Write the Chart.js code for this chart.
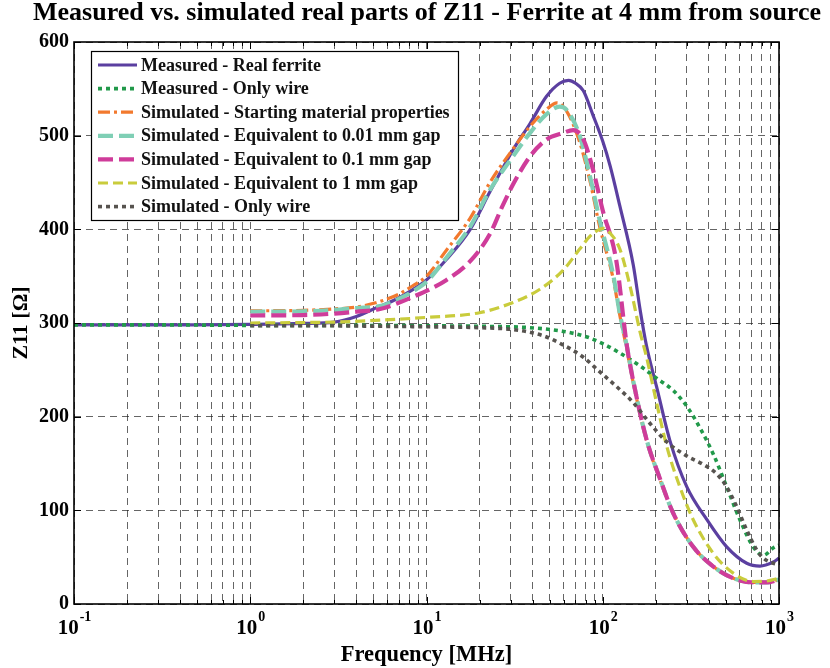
<!DOCTYPE html>
<html><head><meta charset="utf-8">
<script src="https://cdn.jsdelivr.net/npm/chart.js@4.4.1/dist/chart.umd.min.js"></script>
<style>html,body{margin:0;padding:0;background:#fff;}#wrap{width:830px;height:668px;}</style>
</head><body><div id="wrap"><canvas id="c" width="830" height="668"></canvas></div>
<script>
const FONT = '"Liberation Serif", "Times New Roman", serif';
const titleText = 'Measured vs. simulated real parts of Z11 - Ferrite at 4 mm from source';
const xAxisTitle = 'Frequency [MHz]';
const yAxisTitle = 'Z11 [\u03A9]';
const xDecades = [-1, 0, 1, 2, 3];
const yTickValues = [0, 100, 200, 300, 400, 500, 600];

const seriesNames = [
  'Measured - Real ferrite',
  'Measured - Only wire',
  'Simulated - Starting material properties',
  'Simulated - Equivalent to 0.01 mm gap',
  'Simulated - Equivalent to 0.1 mm gap',
  'Simulated - Equivalent to 1 mm gap',
  'Simulated - Only wire'
];

const realFerriteF = [0.1, 0.2, 0.5, 1, 2, 3, 4, 5.45, 6.5, 8.4, 10, 13, 17.7, 22.9, 31, 38.7, 48, 57, 64, 70, 77.6, 88, 100, 110, 125, 149, 163, 177, 202, 240, 300, 390, 505, 656, 780, 930, 1000];
const realFerriteZ = [298, 298, 298, 298.5, 299.5, 301, 307, 318, 324, 336, 346, 368, 400, 440, 485, 513, 542, 556, 559, 556, 548, 522, 494, 468, 425, 362, 314, 276, 232, 175, 125, 90, 61, 43.5, 40.5, 45, 49];

const measWireF = [0.1, 0.3, 1, 3, 10, 20, 38.7, 60, 81.5, 100, 125, 163, 202, 251, 300, 356, 424, 505, 600, 715, 815, 930, 1000];
const measWireZ = [298, 298, 297.5, 297.5, 297, 296.5, 295, 291, 285, 278, 268, 254, 241, 228, 211, 188, 160, 125, 90, 61, 52, 60, 63];

const startMatF = [1, 2, 3, 4, 5.45, 7, 8.4, 10, 13, 17.7, 22.9, 31, 38.7, 48, 55, 62, 74, 85, 96, 115, 125, 137, 149, 177, 211, 251, 326, 424, 550, 715, 850, 1000];
const startMatZ = [313, 313.5, 315, 317, 323, 331, 340, 350, 378, 412, 450, 486, 510, 528, 535, 527, 493, 450, 403, 346, 308, 272, 236, 175, 133, 97, 61, 40, 27.5, 23, 23, 26];

const gap001F = [1, 2, 3, 4, 5.45, 7, 8.4, 10, 13, 17.7, 22.9, 31, 38.7, 48, 57, 62, 74, 85, 96, 115, 125, 137, 149, 177, 211, 251, 326, 424, 550, 715, 850, 1000];
const gap001Z = [312, 312.5, 314, 316, 318, 326, 334, 344, 370, 403, 442, 478, 503, 523, 531, 528, 500, 455, 410, 350, 310, 275, 238, 176, 134, 97, 61, 40, 27.5, 23, 23, 26];

const gap01F = [1, 2, 3, 4, 5.45, 8.4, 13, 17.7, 22.9, 27, 31, 38.7, 48, 59.7, 68, 77.6, 88, 100, 119, 137, 149, 177, 211, 251, 326, 424, 550, 715, 850, 1000];
const gap01Z = [308, 308.5, 310, 312, 315, 328, 346, 366, 395, 425, 448, 478, 496, 503, 506, 496, 464, 420, 368, 276, 238, 176, 134, 97, 61, 40, 27.5, 23, 23, 26];

const gap1F = [1, 2, 3, 5.45, 10, 20, 31, 44, 60, 74, 85, 96, 101, 110, 125, 143, 163, 177, 202, 231, 274, 326, 424, 550, 715, 850, 1000];
const gap1Z = [300, 300.5, 301, 303, 306, 311, 322, 336, 357, 379, 393, 400, 401, 396, 379, 339, 290, 264, 215, 168, 125, 90, 54, 33, 24, 24.5, 27.5];

const simWireF = [1, 3, 5.45, 10, 20, 31, 45, 59, 77, 96, 120, 149, 185, 231, 300, 372, 443, 505, 575, 656, 746, 815, 928, 1000];
const simWireZ = [297, 297, 296.5, 296, 295, 293, 287, 277, 264, 248, 232, 215, 193, 173, 158, 149, 139, 125, 104, 79, 58, 49, 43.5, 42];

const seriesF = [realFerriteF, measWireF, startMatF, gap001F, gap01F, gap1F, simWireF];
const seriesZ = [realFerriteZ, measWireZ, startMatZ, gap001Z, gap01Z, gap1Z, simWireZ];
const colors = ['#5B3FA0', '#21994A', '#F2792E', '#7FCFB5', '#CF3C9A', '#C9CC3C', '#57534F'];
const dashes = [[], [4, 4], [12, 4, 3, 4], [15, 6], [15, 6], [10, 5], [4, 4]];
const widths = [3.2, 3.6, 3.2, 4.2, 4.2, 3.2, 3.6];

const datasets = seriesNames.map((name, i) => ({
  label: name,
  data: seriesF[i].map((f, k) => ({ x: f, y: seriesZ[i][k] })),
  borderColor: colors[i],
  backgroundColor: colors[i],
  borderWidth: widths[i],
  borderDash: dashes[i],
  borderCapStyle: 'butt',
  pointRadius: 0,
  fill: false,
  cubicInterpolationMode: 'monotone',
  order: seriesNames.length - i
}));

const decor = {
  id: 'decor',
  afterDraw(chart) {
    const { ctx, chartArea: a, scales: { x, y } } = chart;
    ctx.save();
    ctx.setLineDash([]);
    ctx.strokeStyle = '#000';
    ctx.lineWidth = 1;
    x.ticks.forEach(t => {
      const px = Math.round(x.getPixelForValue(t.value)) + 0.5;
      const len = t.major ? 7 : 4;
      ctx.beginPath();
      ctx.moveTo(px, a.bottom); ctx.lineTo(px, a.bottom - len);
      ctx.moveTo(px, a.top); ctx.lineTo(px, a.top + len);
      ctx.stroke();
    });
    y.ticks.forEach(t => {
      const py = Math.round(y.getPixelForValue(t.value)) + 0.5;
      ctx.beginPath();
      ctx.moveTo(a.left, py); ctx.lineTo(a.left + 7, py);
      ctx.moveTo(a.right, py); ctx.lineTo(a.right - 7, py);
      ctx.stroke();
    });
    ctx.lineWidth = 1.6;
    ctx.strokeRect(a.left, a.top, a.right - a.left, a.bottom - a.top);

    ctx.fillStyle = '#000';
    ctx.textAlign = 'left';
    ctx.textBaseline = 'alphabetic';
    xDecades.forEach(d => {
      const px = x.getPixelForValue(Math.pow(10, d));
      const base = '10', sup = String(d);
      ctx.font = 'bold 21px ' + FONT; const wb = ctx.measureText(base).width;
      ctx.font = 'bold 14px ' + FONT; const ws = ctx.measureText(sup).width;
      const x0 = px - (wb + ws) / 2;
      ctx.font = 'bold 21px ' + FONT; ctx.fillText(base, x0, 634);
      ctx.font = 'bold 14px ' + FONT; ctx.fillText(sup, x0 + wb + 1, 621);
    });

    ctx.textAlign = 'center';
    ctx.font = 'bold 22.5px ' + FONT;
    ctx.fillText(xAxisTitle, (a.left + a.right) / 2, 661);
    ctx.save();
    ctx.translate(21, (a.top + a.bottom) / 2);
    ctx.rotate(-Math.PI / 2);
    ctx.textBaseline = 'middle';
    ctx.font = 'bold 22px ' + FONT;
    ctx.fillText(yAxisTitle, 0, 0);
    ctx.restore();

    ctx.font = 'bold 26px ' + FONT;
    ctx.textBaseline = 'alphabetic';
    ctx.fillText(titleText, 427, 20);

    // legend
    const lx = 91, ly = 51, lw = 367, lh = 169;
    ctx.fillStyle = '#fff';
    ctx.fillRect(lx, ly, lw, lh);
    ctx.strokeStyle = '#000';
    ctx.lineWidth = 1.2;
    ctx.strokeRect(lx + 0.5, ly + 0.5, lw, lh);
    chart.data.datasets.forEach((ds, i) => {
      const yy = 65 + i * 23.6;
      ctx.strokeStyle = ds.borderColor;
      ctx.lineWidth = ds.borderWidth;
      ctx.setLineDash(ds.borderDash || []);
      ctx.beginPath();
      ctx.moveTo(98, yy); ctx.lineTo(137, yy);
      ctx.stroke();
      ctx.setLineDash([]);
      ctx.fillStyle = '#111';
      ctx.font = 'bold 18px ' + FONT;
      ctx.textAlign = 'left';
      ctx.textBaseline = 'middle';
      ctx.fillText(ds.label, 141, yy + 1);
    });
    ctx.restore();
  }
};

new Chart(document.getElementById('c'), {
  type: 'line',
  data: { datasets },
  options: {
    responsive: false,
    animation: false,
    devicePixelRatio: 1,
    layout: { padding: { top: 42, right: 51, left: 0, bottom: 0 } },
    plugins: { legend: { display: false }, title: { display: false }, tooltip: { enabled: false } },
    scales: {
      x: {
        type: 'logarithmic',
        min: 0.1, max: 1000,
        afterBuildTicks(scale) {
          const t = [];
          for (let d = -1; d <= 3; d++) {
            for (let m = 1; m <= 9; m++) {
              const v = m * Math.pow(10, d);
              if (v > 1000.0001) break;
              t.push({ value: v, major: m === 1 });
            }
          }
          scale.ticks = t;
        },
        afterFit(scale) { scale.height = 64; },
        ticks: { display: false },
        grid: { color: '#222', lineWidth: 0.7, drawTicks: false },
        border: { display: false, dash: [7, 5] }
      },
      y: {
        min: 0, max: 600,
        afterBuildTicks(scale) { scale.ticks = yTickValues.map(v => ({ value: v })); },
        afterFit(scale) { scale.width = 74; },
        ticks: { color: '#000', padding: 5, font: { family: FONT, size: 20, weight: 'bold' } },
        grid: { color: '#222', lineWidth: 0.7, drawTicks: false },
        border: { display: false, dash: [7, 5] }
      }
    }
  },
  plugins: [decor]
});
</script>
</body></html>
